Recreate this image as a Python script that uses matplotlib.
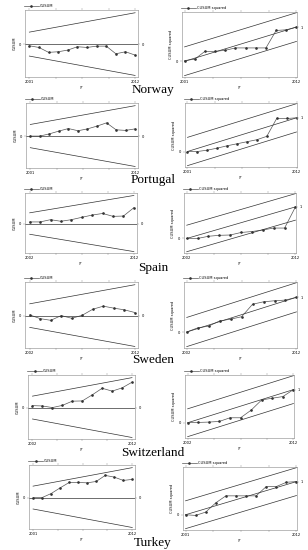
import numpy as np
import matplotlib
matplotlib.use('Agg')
import matplotlib.pyplot as plt

countries = ['Norway', 'Portugal', 'Spain', 'Sweden', 'Switzerland', 'Turkey']

years_12 = [2001, 2002, 2003, 2004, 2005, 2006, 2007, 2008, 2009, 2010, 2011, 2012]
years_11 = [2002, 2003, 2004, 2005, 2006, 2007, 2008, 2009, 2010, 2011, 2012]

# CUSUM values (in units of the starting 5% bound)
cusum_norway = [-0.14, -0.28, -0.69, -0.64, -0.50, -0.22, -0.28, -0.17, -0.17, -0.81, -0.64, -0.92]
cusum_portugal = [0.0, 0.0, 0.19, 0.43, 0.65, 0.46, 0.62, 0.86, 1.14, 0.54, 0.49, 0.62]
cusum_spain = [0.15, 0.15, 0.36, 0.21, 0.36, 0.58, 0.79, 0.94, 0.67, 0.70, 1.48]
cusum_sweden = [0.06, -0.26, -0.40, 0.0, -0.23, 0.03, 0.54, 0.80, 0.63, 0.49, 0.26]
cusum_switzerland = [0.17, 0.14, 0.0, 0.19, 0.56, 0.58, 1.11, 1.69, 1.44, 1.72, 2.22]
cusum_turkey = [0.0, 0.0, 0.35, 0.85, 1.32, 1.32, 1.29, 1.41, 1.94, 1.79, 1.50, 1.59]

# CUSUM of squares
cusumsq_norway = [0.02, 0.06, 0.29, 0.29, 0.32, 0.39, 0.39, 0.39, 0.39, 0.90, 0.92, 1.0]
cusumsq_portugal = [0.0, 0.0, 0.04, 0.10, 0.17, 0.23, 0.29, 0.35, 0.45, 0.98, 0.98, 1.0]
cusumsq_spain = [0.0, 0.0, 0.07, 0.10, 0.11, 0.19, 0.22, 0.27, 0.33, 0.33, 1.0]
cusumsq_sweden = [0.0, 0.12, 0.17, 0.32, 0.37, 0.44, 0.80, 0.87, 0.90, 0.92, 1.0]
cusumsq_switzerland = [0.0, 0.01, 0.02, 0.04, 0.15, 0.15, 0.38, 0.69, 0.74, 0.79, 1.0]
cusumsq_turkey = [0.0, -0.02, 0.08, 0.36, 0.57, 0.57, 0.57, 0.57, 0.85, 0.85, 0.98, 1.0]

years = [years_12, years_12, years_11, years_11, years_11, years_12]
cusum = [cusum_norway, cusum_portugal, cusum_spain, cusum_sweden,
         cusum_switzerland, cusum_turkey]
cusumsq = [cusumsq_norway, cusumsq_portugal, cusumsq_spain, cusumsq_sweden,
           cusumsq_switzerland, cusumsq_turkey]

# bounds: CUSUM +-start -> +-end, CUSUMSQ expected line 0 -> 1 with +- offset
cusum_bound = [1.0, 2.62]
sq_expected = [0.0, 1.0]
sq_offset = 0.42

# panel boxes in pixels (x0, y0, x1, y1)
left_boxes = [(25, 10, 138, 77), (26, 103, 138, 168), (25, 193, 137, 253),
              (25, 282, 138, 348), (28, 375, 135, 439), (29, 465, 135, 529)]
right_boxes = [(182, 12, 297, 77), (185, 103, 297, 167), (184, 193, 296, 253),
               (184, 282, 297, 348), (185, 375, 294, 438), (183, 467, 297, 530)]
label_y = [90, 180, 268, 360, 453, 543]

W, H = 308, 550
LINE = '#333333'
SPINE = '#888888'
FS = 2.6

fig = plt.figure(figsize=(W / 100, H / 100), dpi=100)


def px_axes(box):
    x0, y0, x1, y1 = box
    return fig.add_axes([x0 / W, 1 - y1 / H, (x1 - x0) / W, (y1 - y0) / H])


def style(ax, yr, ytick_l, ytick_r, ylabel, legend):
    first, last = yr[0], yr[-1]
    ax.set_xticks(np.linspace(first, last, 5))
    ax.set_xticklabels([str(first), '', '', '', str(last)])
    ax.set_yticks([ytick_l])
    ax.set_yticklabels([str(ytick_l)])
    ax.tick_params(axis='both', labelsize=FS, length=1.5, width=0.3,
                   color=SPINE, pad=1, top=True)
    for s in ax.spines.values():
        s.set_color(SPINE)
        s.set_linewidth(0.4)
    ax.set_xlabel('yr', fontsize=FS, labelpad=0.5)
    ax.set_ylabel(ylabel, fontsize=FS, labelpad=2)
    ax2 = ax.twinx()
    ax2.set_ylim(ax.get_ylim())
    ax2.set_yticks([ytick_r])
    ax2.set_yticklabels([str(ytick_r)])
    ax2.tick_params(axis='y', labelsize=FS, length=1.5, width=0.3,
                    color=SPINE, pad=1)
    for s in ax2.spines.values():
        s.set_visible(False)
    ax.legend(frameon=False, fontsize=FS, loc='lower left',
              bbox_to_anchor=(-0.02, 1.01), borderaxespad=0, handlelength=4,
              handletextpad=0.4)


for i, name in enumerate(countries):
    yr = years[i]
    first, last = yr[0], yr[-1]

    # CUSUM
    ax = px_axes(left_boxes[i])
    ax.plot(yr, cusum[i], color='#555555', lw=0.5, marker='o', ms=0.9,
            mfc=LINE, mec=LINE, label='CUSUM')
    ax.axhline(0, color=LINE, lw=0.5)
    ax.plot([first, last], cusum_bound, color=LINE, lw=0.5)
    ax.plot([first, last], [-b for b in cusum_bound], color=LINE, lw=0.5)
    ax.set_xlim(first - 0.45, last + 0.3)
    ax.set_ylim(-2.75, 2.85)
    style(ax, yr, 0, 0, 'CUSUM', True)

    # CUSUM squared
    ax = px_axes(right_boxes[i])
    ax.plot(yr, cusumsq[i], color='#555555', lw=0.5, marker='o', ms=0.9,
            mfc=LINE, mec=LINE, label='CUSUM squared')
    ax.plot([first, last], sq_expected, color=LINE, lw=0.5)
    ax.plot([first, last], [v + sq_offset for v in sq_expected], color=LINE, lw=0.5)
    ax.plot([first, last], [v - sq_offset for v in sq_expected], color=LINE, lw=0.5)
    ax.set_xlim(first - 0.25, last + 0.05)
    ax.set_ylim(-0.46, 1.44)
    style(ax, yr, 0, 1, 'CUSUM squared', True)

    fig.text(153 / W, 1 - label_y[i] / H, name, ha='center', va='center',
             fontsize=9.5, family='Liberation Serif')

fig.savefig('out.png', dpi=100)
